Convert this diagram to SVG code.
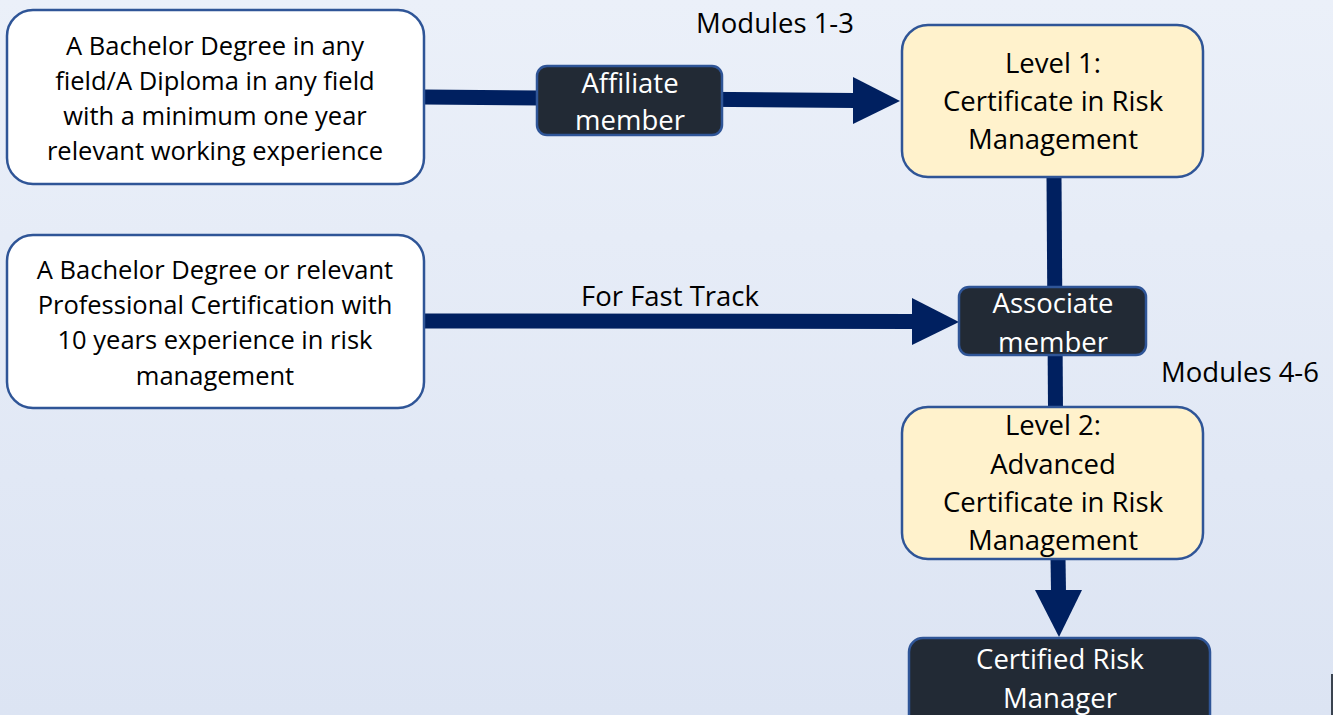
<svg xmlns="http://www.w3.org/2000/svg" width="1333" height="715" viewBox="0 0 1333 715">
<defs>
<linearGradient id="bg" x1="0" y1="0" x2="0" y2="1">
<stop offset="0" stop-color="#ebf0f9"/>
<stop offset="1" stop-color="#dce4f3"/>
</linearGradient>
<style>
.wbox{fill:#ffffff;stroke:#2f5597;stroke-width:2.5}
.ybox{fill:#fff2cc;stroke:#2f5597;stroke-width:2.5}
.dbox{fill:#222a35;stroke:#2f5597;stroke-width:2.5}
.t{font-family:"Open Sans","Noto Sans","DejaVu Sans",sans-serif;fill:#000000;text-anchor:middle}
.s{font-size:25.5px}
.l{font-size:27.5px}
.w{fill:#ffffff}
.ln{stroke:#002060;stroke-width:15;fill:none}
.ah{fill:#002060}
</style>
</defs>
<rect width="1333" height="715" fill="url(#bg)"/>
<g id="connectors">
<line class="ln" x1="424" y1="97" x2="855" y2="100.5"/>
<polygon class="ah" points="853,77 900,101 853,124"/>
<line class="ln" x1="424" y1="321" x2="914" y2="321.5"/>
<polygon class="ah" points="912,298 959,322 912,345"/>
<line class="ln" x1="1054" y1="177" x2="1055.5" y2="408"/>
<line class="ln" x1="1058" y1="558" x2="1058.5" y2="592"/>
<polygon class="ah" points="1035,590 1082,590 1059,637"/>
</g>
<g id="req1">
<rect class="wbox" x="7" y="10" width="417" height="174" rx="26"/>
<text class="t s" x="215" y="55">A Bachelor Degree in any</text>
<text class="t s" x="215" y="90">field/A Diploma in any field</text>
<text class="t s" x="215" y="125">with a minimum one year</text>
<text class="t s" x="215" y="160">relevant working experience</text>
</g>
<g id="req2">
<rect class="wbox" x="7" y="235" width="417" height="173" rx="26"/>
<text class="t s" x="215" y="279">A Bachelor Degree or relevant</text>
<text class="t s" x="215" y="314">Professional Certification with</text>
<text class="t s" x="215" y="349">10 years experience in risk</text>
<text class="t s" x="215" y="385">management</text>
</g>
<g id="affiliate">
<rect class="dbox" x="537" y="66" width="185" height="69" rx="10"/>
<text class="t l w" x="630" y="93">Affiliate</text>
<text class="t l w" x="630" y="130">member</text>
</g>
<g id="level1">
<rect class="ybox" x="902" y="25" width="301" height="152" rx="26"/>
<text class="t l" x="1053" y="73">Level 1:</text>
<text class="t l" x="1053" y="111">Certificate in Risk</text>
<text class="t l" x="1053" y="149">Management</text>
</g>
<g id="associate">
<rect class="dbox" x="959" y="287" width="187" height="68" rx="10"/>
<text class="t l w" x="1053" y="313">Associate</text>
<text class="t l w" x="1053" y="352">member</text>
</g>
<g id="level2">
<rect class="ybox" x="902" y="407" width="301" height="152" rx="26"/>
<text class="t l" x="1053" y="435">Level 2:</text>
<text class="t l" x="1053" y="474">Advanced</text>
<text class="t l" x="1053" y="512">Certificate in Risk</text>
<text class="t l" x="1053" y="550">Management</text>
</g>
<g id="crm">
<rect class="dbox" x="909" y="638" width="301" height="100" rx="14"/>
<text class="t l w" x="1060" y="669">Certified Risk</text>
<text class="t l w" x="1060" y="708">Manager</text>
</g>
<g id="labels">
<text class="t l" x="775" y="33">Modules 1-3</text>
<text class="t l" x="670" y="306">For Fast Track</text>
<text class="t l" x="1240" y="382">Modules 4-6</text>
</g>
<rect x="1331" y="674" width="3" height="41" fill="#3a4350"/>
</svg>
